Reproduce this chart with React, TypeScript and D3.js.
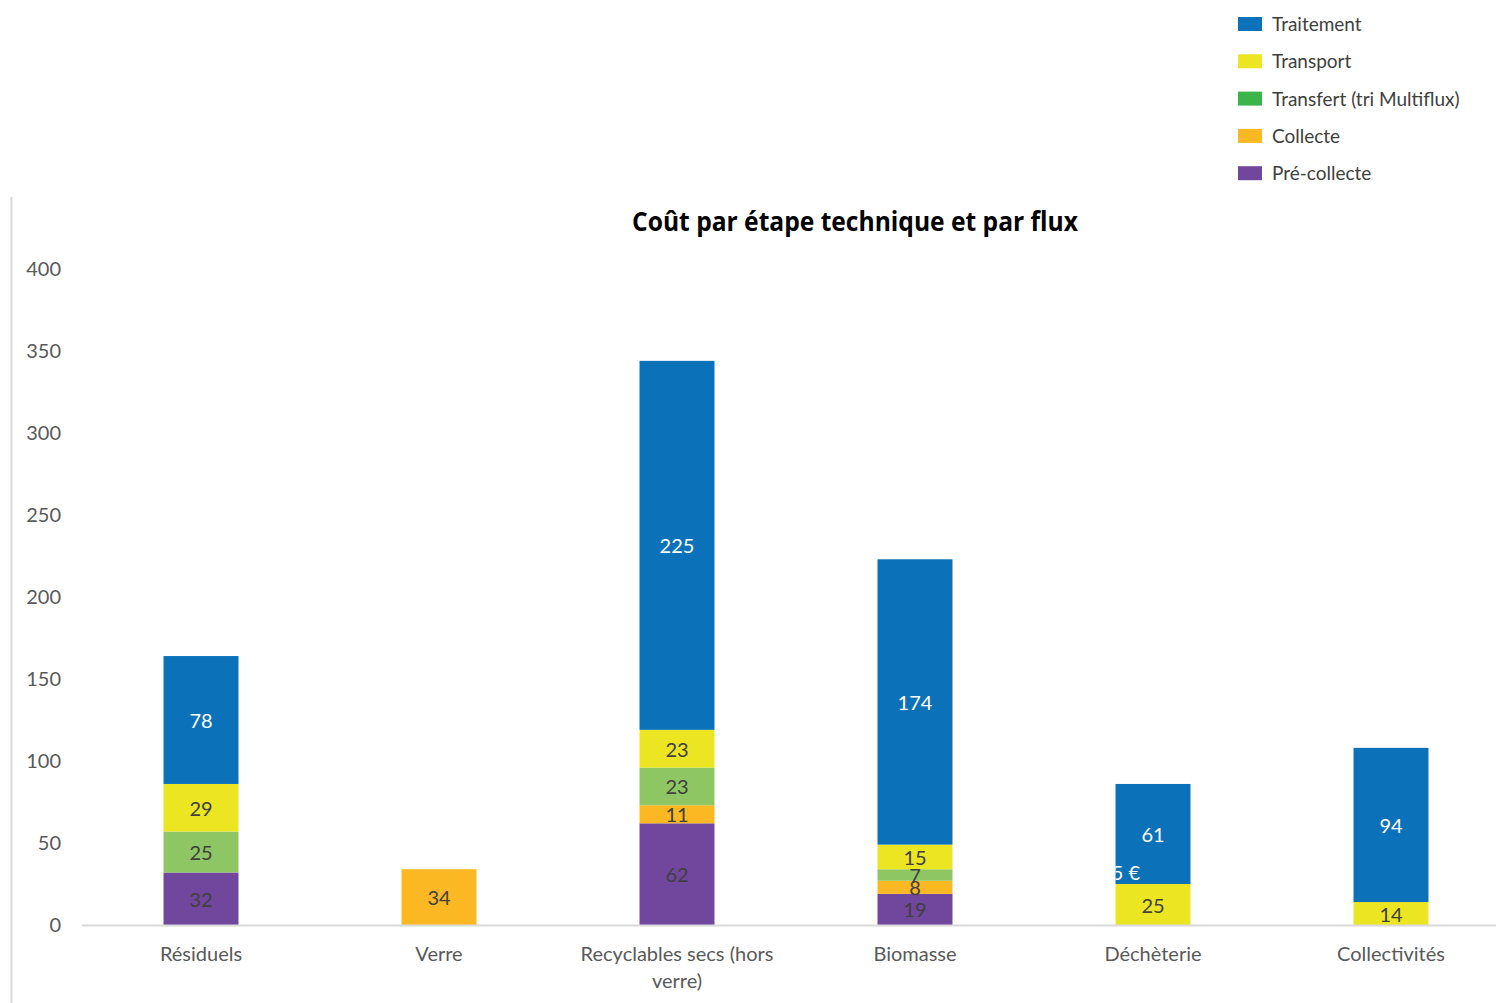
import React from "react";
import * as d3 from "d3";

const categories = ["Résiduels", "Verre", "Recyclables secs (hors verre)", "Biomasse", "Déchèterie", "Collectivités"];
const categoryLines = [["Résiduels"], ["Verre"], ["Recyclables secs (hors", "verre)"], ["Biomasse"], ["Déchèterie"], ["Collectivités"]];
const seriesNames = ["Pré-collecte", "Collecte", "Transfert (tri Multiflux)", "Transport", "Traitement"];
const preCollecte = [32, 0, 62, 19, 0, 0];
const collecte = [0, 34, 11, 8, 0, 0];
const transfert = [25, 0, 23, 7, 0, 0];
const transport = [29, 0, 23, 15, 25, 14];
const traitement = [78, 0, 225, 174, 61, 94];
const yTicks = [0, 50, 100, 150, 200, 250, 300, 350, 400];
const legendOrder = ["Traitement", "Transport", "Transfert (tri Multiflux)", "Collecte", "Pré-collecte"];

const barColors: Record<string, string> = {
  "Pré-collecte": "#70479D",
  "Collecte": "#FBB822",
  "Transfert (tri Multiflux)": "#8DC663",
  "Transport": "#EBE621",
  "Traitement": "#0B72BA",
};
const legendColors: Record<string, string> = {
  ...barColors,
  "Transfert (tri Multiflux)": "#3AB54A",
};

const W = 1496;
const H = 1003;

export default function App() {
  const seriesValues = [preCollecte, collecte, transfert, transport, traitement];
  const table = categories.map((c, i) => {
    const row: Record<string, any> = { cat: c };
    seriesNames.forEach((s, k) => (row[s] = seriesValues[k][i]));
    return row;
  });
  const stack = d3.stack<any>().keys(seriesNames);
  const stacked = stack(table);

  const x = d3.scaleBand<string>().domain(categories).range([82, 1510]).paddingInner(0.685).paddingOuter(0.3425);
  const y = d3.scaleLinear().domain([0, 400]).range([925, 269]);

  const font = "Lato, 'Open Sans', sans-serif";

  return (
    <svg width={W} height={H} style={{ position: "absolute", left: 0, top: 0 }} fontFamily={font}>
      <rect x={0} y={0} width={W} height={H} fill="#fff" />
      {/* left border */}
      <line x1={11.5} x2={11.5} y1={197} y2={H} stroke="#d9d9d9" strokeWidth={2} />
      {/* title */}
      <text x={855} y={231} textAnchor="middle" fontSize={26} fontWeight="bold" fill="#000" fontFamily="'Open Sans', Lato, sans-serif" textLength={446} lengthAdjust="spacingAndGlyphs">
        Coût par étape technique et par flux
      </text>
      {/* y ticks */}
      {yTicks.map((t) => (
        <text key={t} x={61} y={y(t) + 7} textAnchor="end" fontSize={20} fill="#595959">
          {t}
        </text>
      ))}
      {/* bars */}
      {stacked.map((layer) => (
        <g key={layer.key}>
          {layer.map((d, i) => {
            const v = d[1] - d[0];
            if (v <= 0) return null;
            return (
              <rect
                key={i}
                x={x(categories[i])!}
                y={y(d[1])}
                width={x.bandwidth()}
                height={y(d[0]) - y(d[1])}
                fill={barColors[layer.key]}
              />
            );
          })}
        </g>
      ))}
      {/* axis line */}
      <line x1={82} x2={W} y1={925.5} y2={925.5} stroke="#d9d9d9" strokeWidth={2} />
      {/* data labels */}
      {stacked.map((layer) => (
        <g key={"l" + layer.key}>
          {layer.map((d, i) => {
            const v = d[1] - d[0];
            if (v <= 0) return null;
            const cx = x(categories[i])! + x.bandwidth() / 2;
            const cy = (y(d[0]) + y(d[1])) / 2;
            return (
              <text key={i} x={cx} y={cy + 8} textAnchor="middle" fontSize={20} fill={layer.key === "Traitement" ? "#ffffff" : "#404040"}>
                {v}
              </text>
            );
          })}
        </g>
      ))}
      {/* stray clipped label */}
      <clipPath id="clipDech">
        <rect x={x("Déchèterie")!} y={0} width={x.bandwidth()} height={H} />
      </clipPath>
      <text x={1140} y={880} textAnchor="end" fontSize={20} fill="#ffffff" clipPath="url(#clipDech)">
        25 €
      </text>
      {/* category labels */}
      {categories.map((c, i) => (
        <text key={c} x={x(c)! + x.bandwidth() / 2} y={961} textAnchor="middle" fontSize={20} fill="#595959">
          {categoryLines[i].map((ln, j) => (
            <tspan key={j} x={x(c)! + x.bandwidth() / 2} dy={j === 0 ? 0 : 27}>
              {ln}
            </tspan>
          ))}
        </text>
      ))}
      {/* legend */}
      {legendOrder.map((s, i) => {
        const ly = 24 + i * 37.3;
        return (
          <g key={s}>
            <rect x={1238} y={ly - 7} width={24} height={14} fill={legendColors[s]} />
            <text x={1272} y={ly + 7} fontSize={19} fill="#404040" fontFamily="Lato, sans-serif">
              {s}
            </text>
          </g>
        );
      })}
    </svg>
  );
}
